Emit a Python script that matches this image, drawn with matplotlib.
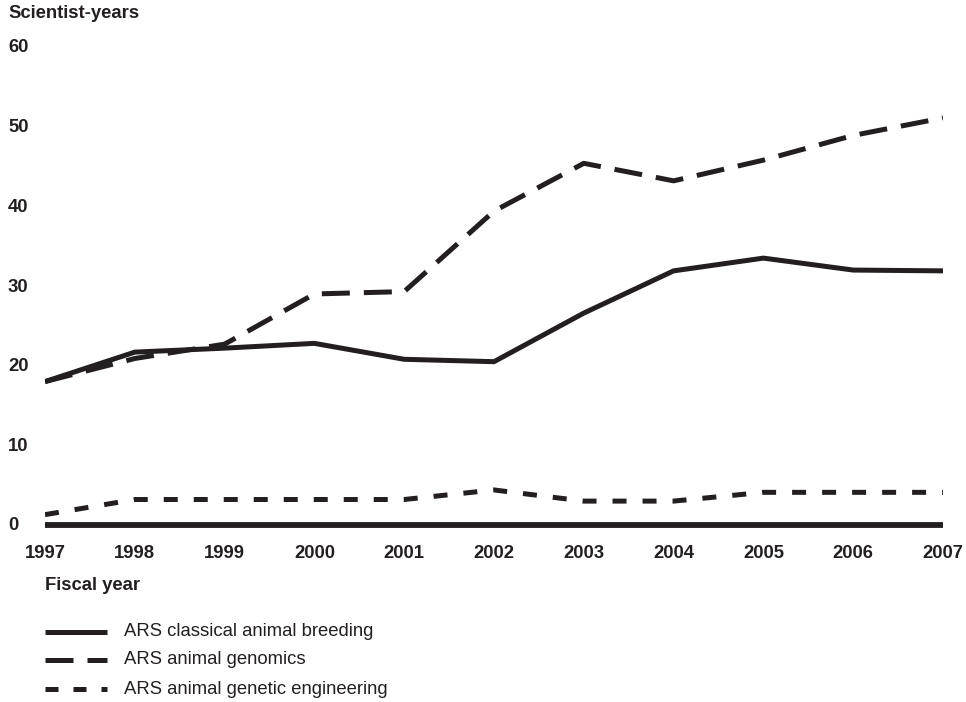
import matplotlib.pyplot as plt

# Values
years = [1997, 1998, 1999, 2000, 2001, 2002, 2003, 2004, 2005, 2006, 2007]
classical = [18.0, 21.7, 22.2, 22.8, 20.8, 20.5, 26.6, 31.9, 33.5, 32.0, 31.9]
genomics = [18.0, 20.9, 22.7, 29.0, 29.3, 39.4, 45.4, 43.2, 45.8, 48.9, 51.1]
engineering = [1.3, 3.2, 3.2, 3.2, 3.2, 4.4, 3.0, 3.0, 4.1, 4.1, 4.1]
y_ticks = [0, 10, 20, 30, 40, 50, 60]

labels = ['ARS classical animal breeding',
          'ARS animal genomics',
          'ARS animal genetic engineering']

plt.rcParams['font.family'] = ['Liberation Sans', 'DejaVu Sans']
ink = '#231f20'
fs = 13.3

fig = plt.figure(figsize=(9.66, 7.02), dpi=100)
ax = fig.add_axes([45 / 966, (702 - 525) / 702, (943 - 45) / 966, (525 - 47) / 702])

lw = 3.6
ax.plot(years, classical, color=ink, lw=lw, solid_capstyle='butt',
        solid_joinstyle='miter')
ax.plot(years, genomics, color=ink, lw=lw, dashes=(5.6, 2.8),
        dash_capstyle='butt')
ax.plot(years, engineering, color=ink, lw=lw, dashes=(2.8, 3.2),
        dash_capstyle='butt')
# thick baseline at zero
ax.plot([years[0], years[-1]], [0, 0], color=ink, lw=4.2,
        solid_capstyle='butt', clip_on=False)

ax.set_xlim(years[0], years[-1])
ax.set_ylim(0, 60)
for s in ax.spines.values():
    s.set_visible(False)
ax.set_xticks([])
ax.set_yticks([])

# y tick labels, left aligned at the figure edge
for v in y_ticks:
    ax.annotate(str(v), xy=(0, v), xycoords=('figure fraction', 'data'),
                xytext=(8, -1), textcoords='offset pixels',
                ha='left', va='center', fontsize=fs, fontweight='bold',
                color=ink)

# x tick labels
for yr in years:
    ax.annotate(str(yr), xy=(yr, 0), xycoords='data',
                xytext=(0, -28), textcoords='offset pixels',
                ha='center', va='center', fontsize=fs, fontweight='bold',
                color=ink)

fig.text(8 / 966, 1 - 14 / 702, 'Scientist-years', ha='left', va='center',
         fontsize=fs, fontweight='bold', color=ink)
fig.text(45 / 966, 1 - 586 / 702, 'Fiscal year', ha='left', va='center',
         fontsize=fs, fontweight='bold', color=ink)

# legend drawn by hand below the axes
leg_y = [632, 660, 689]
styles = [dict(), dict(dashes=(5.6, 2.8)), dict(dashes=(2.6, 3.0))]
for yy, lab, st in zip(leg_y, labels, styles):
    fy = 1 - yy / 702
    fig.add_artist(plt.Line2D([45 / 966, 107 / 966], [fy, fy], color=ink,
                              lw=lw, solid_capstyle='butt',
                              dash_capstyle='butt', **st))
    fig.text(124 / 966, fy, lab, ha='left', va='center', fontsize=fs,
             color=ink)

fig.savefig('out.png', dpi=100)
